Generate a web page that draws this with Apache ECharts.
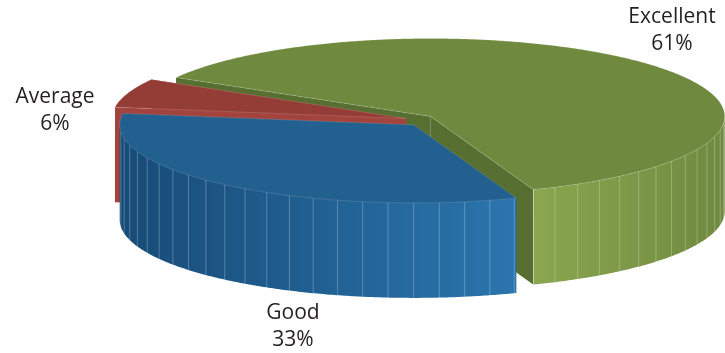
<!DOCTYPE html>
<html>
<head>
<meta charset="utf-8">
<script src="https://cdn.jsdelivr.net/npm/echarts@6/dist/echarts.min.js"></script>
<style>
  html, body { margin: 0; padding: 0; background: #fff; }
  #main { width: 725px; height: 353px; }
</style>
</head>
<body>
<div id="main"></div>
<script>
// data
var categories = ['Excellent', 'Good', 'Average'];
var values = [61, 33, 6];

// looks
var topColors = ['#6f8a3f', '#22608f', '#943c36'];
var wallColors = [['#8ba64f', '#6f8a3f'], ['#174b77', '#2b75ae'], ['#a2443d', '#a2443d']];
var cutColors = ['#576f31', '#1a4f7c', '#a2443d'];
var explode = [14, 10, 15];
var labelPos = [[672, 31], [293, 327], [55, 111]];

// pie geometry (ellipse seen from above, y goes down, angles clockwise)
var cx = 420, cy = 121, rx = 294, ry = 78, depth = 95, startAngle = 210;

function pt(o, t, dz) {
	var a = t * Math.PI / 180;
	return [o[0] + rx * Math.cos(a), o[1] + ry * Math.sin(a) + (dz || 0)];
}

function buildSlices() {
	var total = 0;
	values.forEach(function(v) { total += v; });
	var a = startAngle;
	var list = [];
	values.forEach(function(v, i) {
		var span = v / total * 360;
		var mid = a + span / 2;
		var m = mid * Math.PI / 180;
		var apex = [cx + explode[i] * Math.cos(m), cy + explode[i] * Math.sin(m) * 0.5];
		list.push({ i: i, s: a, e: a + span, mid: mid, apex: apex, pct: Math.round(v / total * 100) });
		a += span;
	});
	// back slices first
	list.sort(function(p, q) {
		return Math.sin(p.mid * Math.PI / 180) - Math.sin(q.mid * Math.PI / 180);
	});
	return list;
}

function renderAll(params, api) {
	var kids = [];
	buildSlices().forEach(function(sl) {
		var o = sl.apex, i = sl.i;
		var ob = [o[0], o[1] + depth];
		// cut faces
		[sl.s, sl.e].forEach(function(t) {
			var p = pt(o, t), pb = pt(o, t, depth);
			kids.push({ type: 'polygon', shape: { points: [o, p, pb, ob] },
				style: { fill: cutColors[i] } });
		});
		// outer wall, only the front half shows
		var segs = [], cur = null;
		for (var t = sl.s; t <= sl.e + 0.0001; t += 0.5) {
			var tt = Math.min(t, sl.e);
			if (Math.sin(tt * Math.PI / 180) >= 0) {
				if (!cur) { cur = []; segs.push(cur); }
				cur.push(tt);
			} else {
				cur = null;
			}
		}
		segs.forEach(function(seg) {
			if (seg.length < 2) return;
			var top = seg.map(function(t) { return pt(o, t); });
			var bot = seg.slice().reverse().map(function(t) { return pt(o, t, depth); });
			kids.push({ type: 'polygon', shape: { points: top.concat(bot) },
				style: { fill: new echarts.graphic.LinearGradient(0, 0, 1, 0, [
					{ offset: 0, color: wallColors[i][0] },
					{ offset: 1, color: wallColors[i][1] }
				]) } });
			// facet lines
			for (var f = Math.ceil(seg[0] / 5) * 5; f < seg[seg.length - 1]; f += 5) {
				var p1 = pt(o, f), p2 = pt(o, f, depth);
				kids.push({ type: 'line', shape: { x1: p1[0], y1: p1[1], x2: p2[0], y2: p2[1] },
					style: { stroke: 'rgba(255,255,255,0.26)', lineWidth: 1 } });
			}
		});
		// top face
		var pts = [o];
		for (var t2 = sl.s; t2 <= sl.e + 0.0001; t2 += 0.5) pts.push(pt(o, Math.min(t2, sl.e)));
		pts.push(pt(o, sl.e));
		kids.push({ type: 'polygon', shape: { points: pts },
			style: { fill: topColors[i], stroke: 'rgba(255,255,255,0.18)', lineWidth: 0.8 } });
		// label
		kids.push({ type: 'text', x: labelPos[i][0], y: labelPos[i][1],
			style: { text: categories[i] + '\n' + sl.pct + '%', fill: '#231f20',
				font: '21px "Open Sans"', align: 'center', verticalAlign: 'middle', lineHeight: 27 } });
	});
	return { type: 'group', children: kids };
}

var myChart = echarts.init(document.getElementById('main'));
var option = {
	backgroundColor: '#fff',
	animation: false,
	series: [{
		type: 'custom',
		coordinateSystem: 'none',
		renderItem: renderAll,
		data: [0]
	}]
};
myChart.setOption(option);
</script>
</body>
</html>
